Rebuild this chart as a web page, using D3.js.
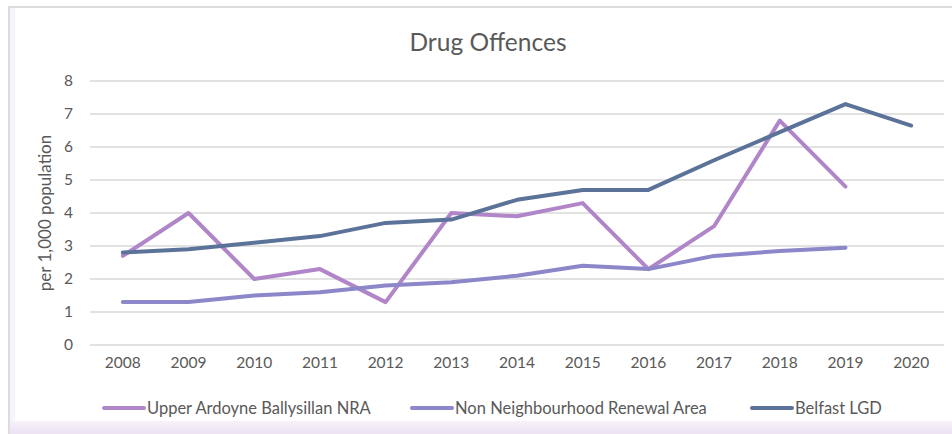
<!DOCTYPE html>
<meta charset="utf-8">
<title>Drug Offences</title>
<style>
body { margin: 0; background: white; font-family: Lato, Carlito, sans-serif; }
svg { display: block; }
</style>
<body>
<script src="https://d3js.org/d3.v7.min.js"></script>
<script>

// data
const years = ["2008","2009","2010","2011","2012","2013","2014","2015","2016","2017","2018","2019","2020"];
const upperArdoyne = [2.7, 4.0, 2.0, 2.3, 1.3, 4.0, 3.9, 4.3, 2.3, 3.6, 6.8, 4.8, null];
const nonNRA = [1.3, 1.3, 1.5, 1.6, 1.8, 1.9, 2.1, 2.4, 2.3, 2.7, 2.85, 2.95, null];
const belfast = [2.8, 2.9, 3.1, 3.3, 3.7, 3.8, 4.4, 4.7, 4.7, 5.6, 6.45, 7.3, 6.65];
const seriesNames = ["Upper Ardoyne Ballysillan NRA", "Non Neighbourhood Renewal Area", "Belfast LGD"];
const seriesColors = ["#b086c9", "#8b87c9", "#5b7398"];
const yTicks = [0, 1, 2, 3, 4, 5, 6, 7, 8];

const width = 952, height = 434;
const margin = {top: 81, right: 8, bottom: 89, left: 90};

var svg = d3.select("body").append("svg")
    .attr("width", width)
    .attr("height", height);

// frame (top + left border, lavender strip at bottom)
var grad = svg.append("defs").append("linearGradient")
    .attr("id", "bottomfade").attr("x1", 0).attr("y1", 0).attr("x2", 0).attr("y2", 1);
grad.append("stop").attr("offset", "0%").attr("stop-color", "#f7f2fa");
grad.append("stop").attr("offset", "100%").attr("stop-color", "#ece2f3");
svg.append("rect").attr("x", 8).attr("y", 421).attr("width", width - 8).attr("height", 13)
    .attr("fill", "url(#bottomfade)");
svg.append("rect").attr("x", 8).attr("y", 6).attr("width", width - 8).attr("height", 2)
    .attr("fill", "#dcdcdc");
svg.append("rect").attr("x", 8).attr("y", 6).attr("width", 2).attr("height", height - 6)
    .attr("fill", "#dcdcdc");
svg.append("rect").attr("x", 10).attr("y", 8).attr("width", 5).attr("height", 413)
    .attr("fill", "#f6f6fa");

var x = d3.scaleBand()
    .domain(years)
    .range([margin.left, 944]);

var y = d3.scaleLinear()
    .domain([0, 8])
    .range([345, margin.top]);

// gridlines
svg.append("g")
  .selectAll("line")
  .data(yTicks)
  .enter().append("line")
    .attr("x1", margin.left)
    .attr("x2", 944)
    .attr("y1", d => y(d))
    .attr("y2", d => y(d))
    .attr("stroke", "#d9d9d9")
    .attr("stroke-width", 1.5);

// y axis labels
var yAxis = svg.append("g")
    .attr("transform", "translate(" + (margin.left - 14) + ",0)")
    .call(d3.axisLeft(y).tickValues(yTicks).tickSize(0).tickFormat(d3.format("d")));
yAxis.select(".domain").remove();
yAxis.selectAll("text")
    .attr("fill", "#595959")
    .style("font-size", "15.5px")
    .style("font-family", "Lato, sans-serif");

// x axis labels
var xAxis = svg.append("g")
    .attr("transform", "translate(0,354)")
    .call(d3.axisBottom(x).tickSize(0));
xAxis.select(".domain").remove();
xAxis.selectAll("text")
    .attr("fill", "#595959")
    .style("font-size", "15.5px")
    .style("font-family", "Lato, sans-serif");

// lines
var allSeries = [upperArdoyne, nonNRA, belfast];
var line = d3.line()
    .defined(d => d.v != null)
    .x(d => x(d.year) + x.bandwidth() / 2)
    .y(d => y(d.v));

allSeries.forEach(function(s, i) {
  svg.append("path")
    .datum(years.map((yr, j) => ({year: yr, v: s[j]})))
    .attr("d", line)
    .attr("fill", "none")
    .attr("stroke", seriesColors[i])
    .attr("stroke-width", 4)
    .attr("stroke-linejoin", "round")
    .attr("stroke-linecap", "round");
});

// title
svg.append("text")
    .attr("x", 488)
    .attr("y", 51)
    .attr("text-anchor", "middle")
    .attr("fill", "#595959")
    .style("font-size", "24.5px")
    .style("font-family", "Lato, sans-serif")
    .text("Drug Offences");

// y axis title
svg.append("text")
    .attr("transform", "translate(51,213)rotate(-90)")
    .attr("text-anchor", "middle")
    .attr("fill", "#595959")
    .style("font-size", "17px")
    .style("font-family", "Lato, sans-serif")
    .text("per 1,000 population");

// legend
var legendX = [104, 412, 752];
var legend = svg.append("g");
seriesNames.forEach(function(name, i) {
  legend.append("line")
    .attr("x1", legendX[i]).attr("x2", legendX[i] + 40)
    .attr("y1", 408).attr("y2", 408)
    .attr("stroke", seriesColors[i])
    .attr("stroke-width", 4)
    .attr("stroke-linecap", "round");
  legend.append("text")
    .attr("x", legendX[i] + 43)
    .attr("y", 414)
    .attr("fill", "#595959")
    .style("font-size", "16.5px")
    .style("font-family", "Lato, sans-serif")
    .text(name);
});

</script>
</body>
